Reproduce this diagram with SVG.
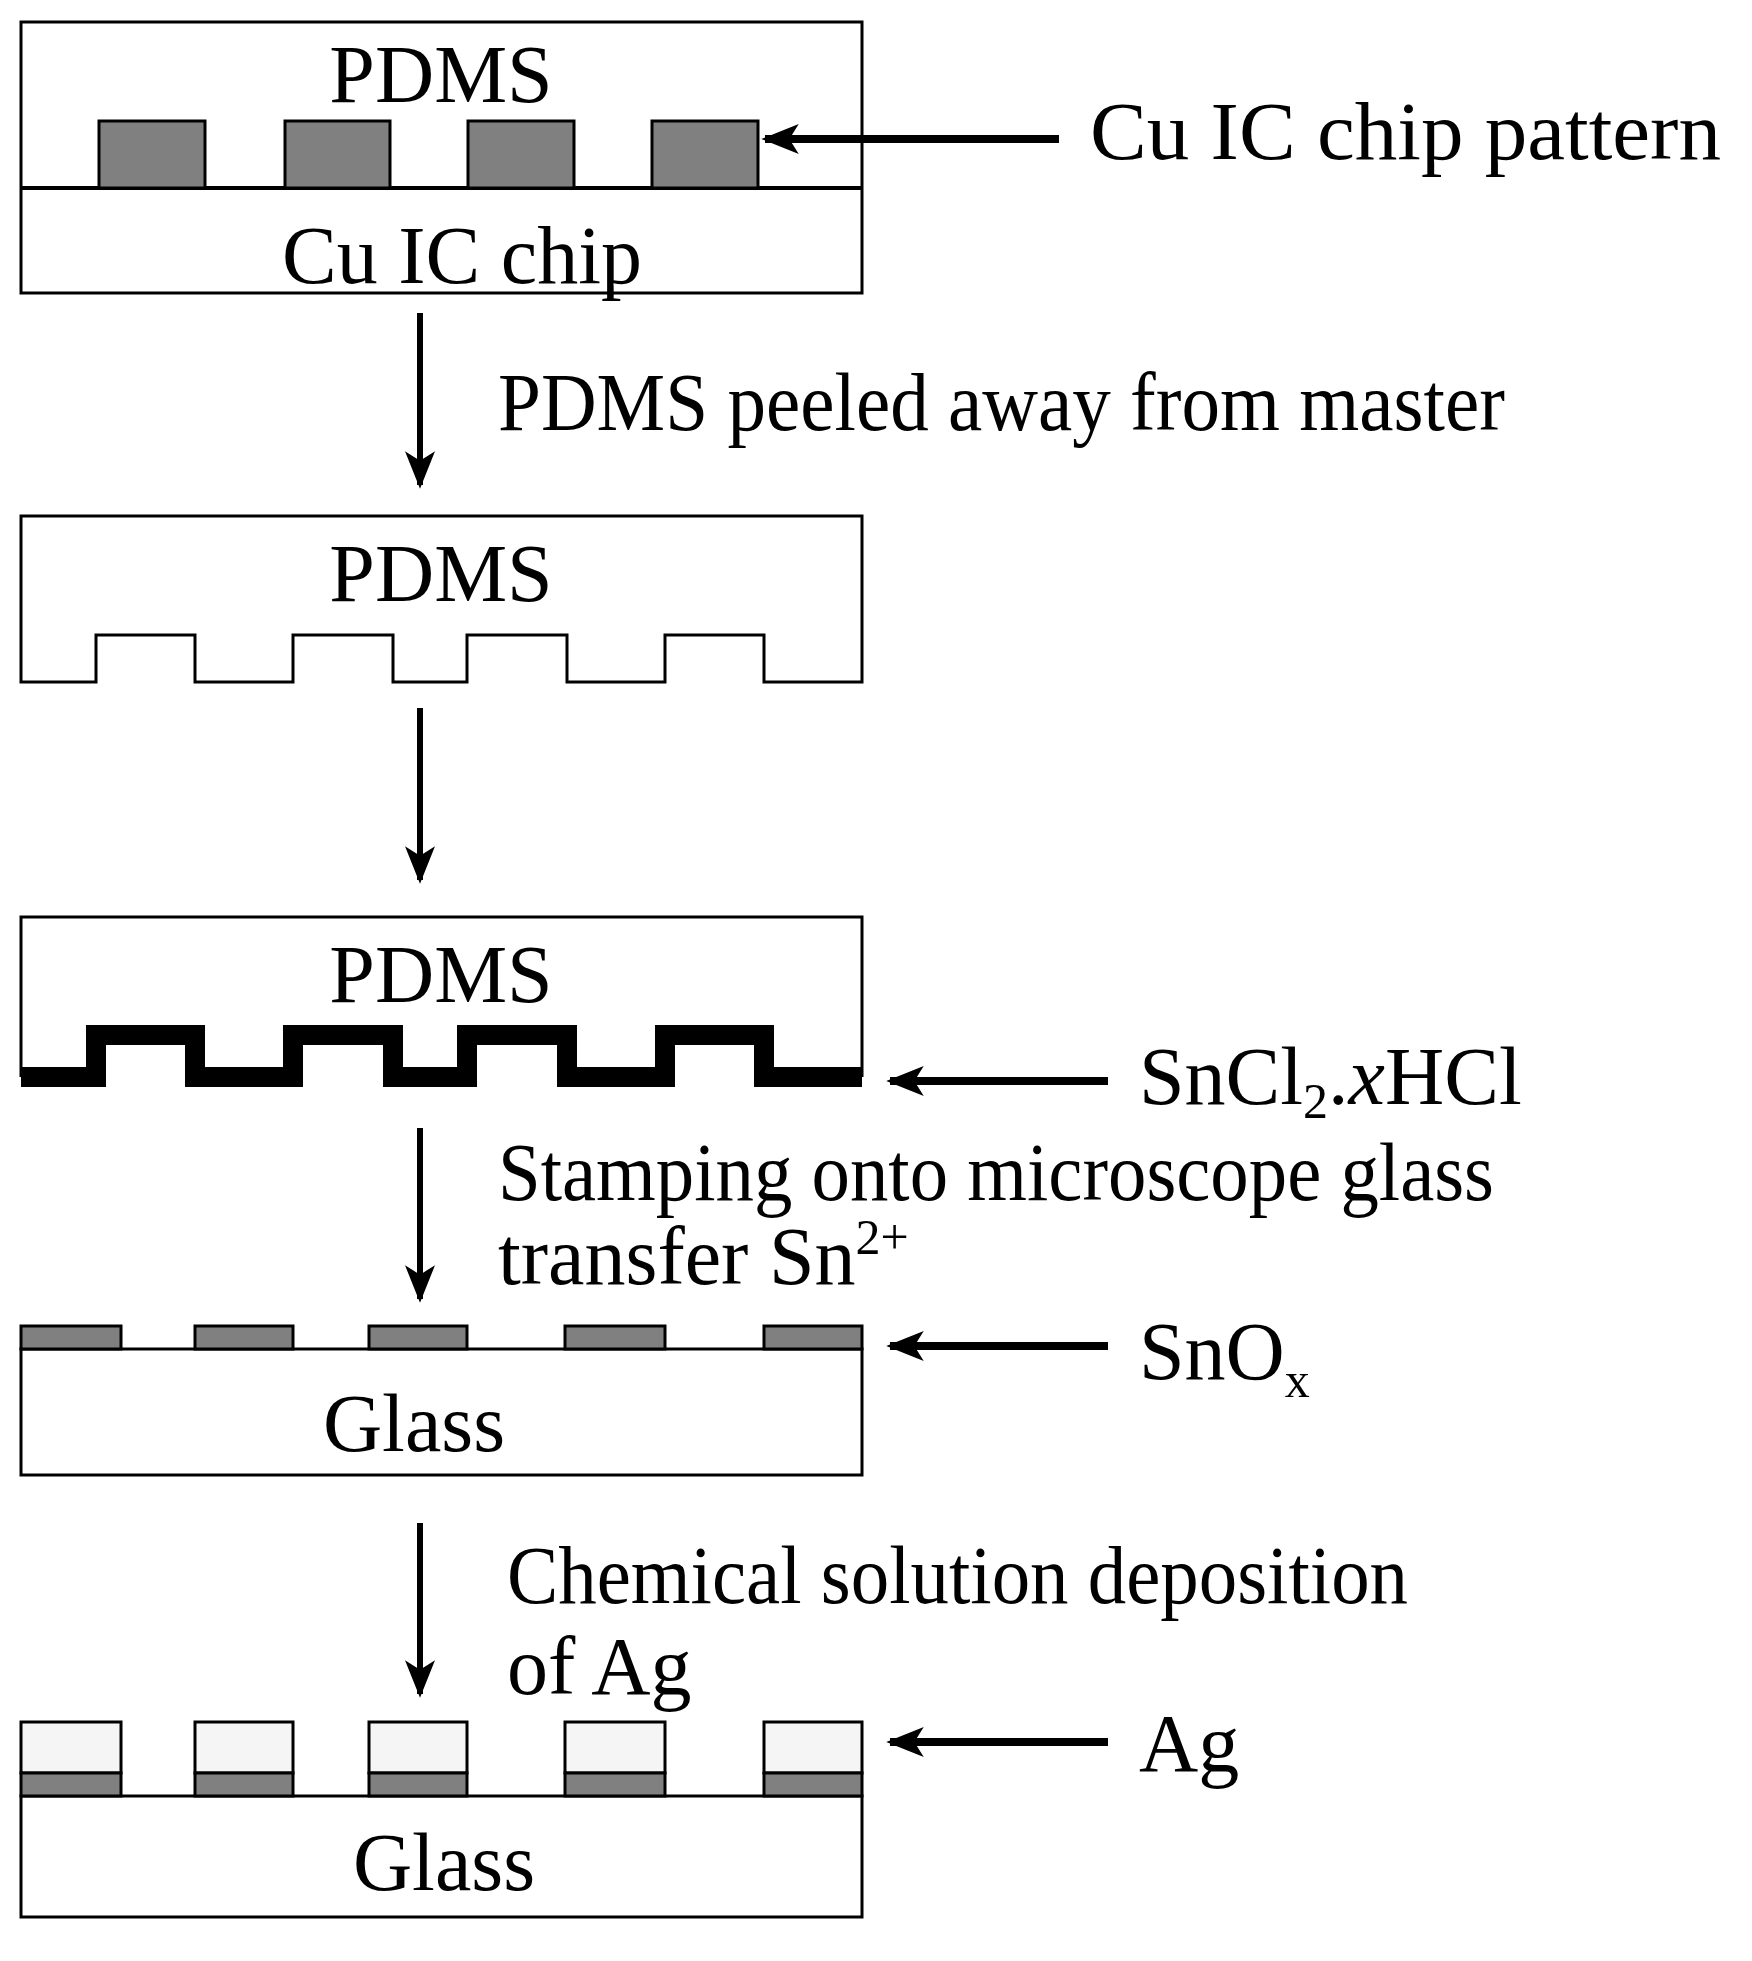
<svg xmlns="http://www.w3.org/2000/svg" width="1752" height="1961" viewBox="0 0 1752 1961">
<style>
text{font-family:"Liberation Serif","Times New Roman",serif;font-size:82px;fill:#000}
.box{fill:#fff;stroke:#000;stroke-width:3}
.pad{fill:#808080;stroke:#000;stroke-width:3}
.ag{fill:#f5f5f5;stroke:#000;stroke-width:3}
.v{stroke:#000;stroke-width:6;fill:none}
.h{stroke:#000;stroke-width:8;fill:none}
</style>
<defs>
<marker id="ah" viewBox="0 0 10 8" refX="9" refY="4" markerUnits="userSpaceOnUse" markerWidth="38" markerHeight="30" orient="auto"><path d="M0,0 L10,4 L0,8 L2.5,4 Z" fill="#000"/></marker>
</defs>
<rect width="1752" height="1961" fill="#fff"/>
<g id="step1">
<rect class="box" x="21" y="22" width="841" height="271"/>
<line x1="21" y1="188" x2="862" y2="188" stroke="#000" stroke-width="4"/>
<rect class="pad" x="99" y="121" width="106" height="67"/>
<rect class="pad" x="285" y="121" width="105" height="67"/>
<rect class="pad" x="468" y="121" width="106" height="67"/>
<rect class="pad" x="652" y="121" width="106" height="67"/>
<text x="441" y="102" text-anchor="middle">PDMS</text>
<text x="462" y="283" text-anchor="middle">Cu IC chip</text>
</g>
<g id="step2">
<path class="box" d="M21,516 H862 V682 H764 V635 H665 V682 H567 V635 H467 V682 H393 V635 H293 V682 H195 V635 H96 V682 H21 Z"/>
<text x="441" y="601" text-anchor="middle">PDMS</text>
</g>
<g id="step3">
<path class="box" d="M21,1077 V917 H862 V1077"/>
<path d="M21,1077 H96 V1035 H195 V1077 H293 V1035 H393 V1077 H467 V1035 H567 V1077 H665 V1035 H764 V1077 H862" fill="none" stroke="#000" stroke-width="20" stroke-linejoin="miter"/>
<text x="441" y="1002" text-anchor="middle">PDMS</text>
</g>
<g id="step4">
<rect class="box" x="21" y="1349" width="841" height="126"/>
<rect class="pad" x="21" y="1326" width="100" height="23"/>
<rect class="pad" x="195" y="1326" width="98" height="23"/>
<rect class="pad" x="369" y="1326" width="98" height="23"/>
<rect class="pad" x="565" y="1326" width="100" height="23"/>
<rect class="pad" x="764" y="1326" width="98" height="23"/>
<text x="414" y="1451" text-anchor="middle">Glass</text>
</g>
<g id="step5">
<rect class="box" x="21" y="1796" width="841" height="121"/>
<rect class="ag" x="21" y="1722" width="100" height="51"/><rect class="pad" x="21" y="1773" width="100" height="23"/>
<rect class="ag" x="195" y="1722" width="98" height="51"/><rect class="pad" x="195" y="1773" width="98" height="23"/>
<rect class="ag" x="369" y="1722" width="98" height="51"/><rect class="pad" x="369" y="1773" width="98" height="23"/>
<rect class="ag" x="565" y="1722" width="100" height="51"/><rect class="pad" x="565" y="1773" width="100" height="23"/>
<rect class="ag" x="764" y="1722" width="98" height="51"/><rect class="pad" x="764" y="1773" width="98" height="23"/>
<text x="444" y="1890" text-anchor="middle">Glass</text>
</g>
<g id="connectors">
<line class="v" x1="420" y1="313" x2="420" y2="485" marker-end="url(#ah)"/>
<line class="v" x1="420" y1="708" x2="420" y2="880" marker-end="url(#ah)"/>
<line class="v" x1="420" y1="1128" x2="420" y2="1299" marker-end="url(#ah)"/>
<line class="v" x1="420" y1="1523" x2="420" y2="1694" marker-end="url(#ah)"/>
<line class="h" x1="1059" y1="139" x2="765" y2="139" marker-end="url(#ah)"/>
<line class="h" x1="1108" y1="1081" x2="890" y2="1081" marker-end="url(#ah)"/>
<line class="h" x1="1108" y1="1346" x2="890" y2="1346" marker-end="url(#ah)"/>
<line class="h" x1="1108" y1="1742" x2="890" y2="1742" marker-end="url(#ah)"/>
</g>
<g id="labels">
<text x="1090" y="159" textLength="631" lengthAdjust="spacingAndGlyphs">Cu IC chip pattern</text>
<text x="498" y="430" textLength="1007" lengthAdjust="spacingAndGlyphs">PDMS peeled away from master</text>
<text x="1139" y="1104">SnCl<tspan font-size="50" dy="14">2</tspan><tspan dy="-14">.</tspan><tspan font-style="italic">x</tspan>HCl</text>
<text x="498" y="1200" textLength="996" lengthAdjust="spacingAndGlyphs">Stamping onto microscope glass</text>
<text x="498" y="1284">transfer Sn<tspan font-size="50" dy="-30">2+</tspan></text>
<text x="1139" y="1379">SnO<tspan font-size="50" dy="18">x</tspan></text>
<text x="507" y="1603" textLength="901" lengthAdjust="spacingAndGlyphs">Chemical solution deposition</text>
<text x="507" y="1694">of Ag</text>
<text x="1139" y="1771">Ag</text>
</g>
</svg>
